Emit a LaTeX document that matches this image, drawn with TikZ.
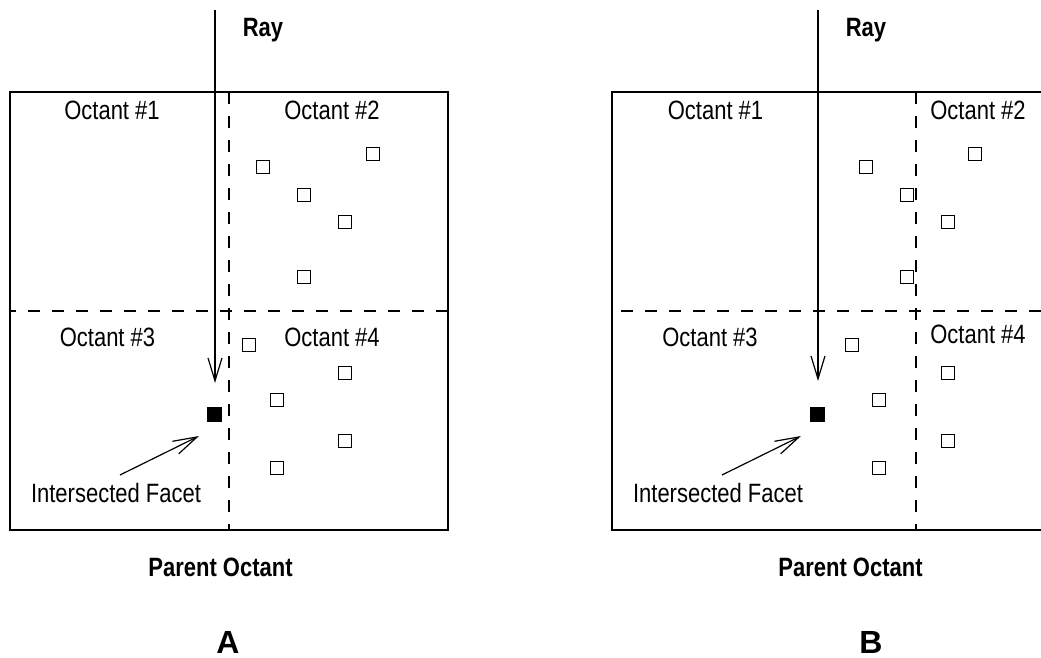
\documentclass[tikz,border=0pt]{standalone}
\usepackage{fontspec}
\setmainfont{Liberation Sans}[FakeStretch=0.83]
\newfontfamily\widesans{Liberation Sans}
\usetikzlibrary{arrows.meta}
\begin{document}
\begin{tikzpicture}[x=1pt,y=-1pt,
  lbl/.style={font=\fontsize{26.5}{31}\selectfont, inner sep=0pt, anchor=base},
  blbl/.style={lbl, font=\fontsize{26.5}{31}\selectfont\bfseries},
  big/.style={lbl, font=\widesans\fontsize{32}{38}\selectfont\bfseries},
  frame/.style={line width=1.3pt},
  divider/.style={line width=1.2pt, dash pattern=on 12pt off 12pt},
  facet/.style={draw, line width=1.2pt, minimum size=13.5pt, inner sep=0pt},
  hit/.style={fill=black, minimum size=15pt, inner sep=0pt},
  ray/.style={line width=1.2pt, -{Straight Barb[length=23pt,width=14pt]}},
  pointer/.style={line width=1.2pt, -{Straight Barb[length=24pt,width=14pt]}}]
\useasboundingbox (0,0) rectangle (1041,658);

% ---------------- Panel A ----------------
\draw[frame] (10,92) rectangle (448,530);
\draw[divider] (229,92) -- (229,530);
\draw[divider] (448,311) -- (10,311);

\node[lbl] (aO1) at (112,120) {Octant \#1};
\node[lbl] (aO2) at (332,120) {Octant \#2};
\node[lbl] (aO3) at (107.5,346.5) {Octant \#3};
\node[lbl] (aO4) at (332,346.5) {Octant \#4};

\node[facet] (af1) at (263,167) {};
\node[facet] (af2) at (373,154) {};
\node[facet] (af3) at (304,195) {};
\node[facet] (af4) at (345,222) {};
\node[facet] (af5) at (304,277) {};
\node[facet] (af6) at (249,345) {};
\node[facet] (af7) at (345,373) {};
\node[facet] (af8) at (277,400) {};
\node[facet] (af9) at (345,441) {};
\node[facet] (af10) at (277,468) {};
\node[hit] (aHit) at (214,414) {};

\coordinate (aRayTop) at (215,10);
\coordinate (aRayTip) at (215,383);
\draw[ray] (aRayTop) -- (aRayTip);
\node[blbl] (aRay) at (263,37) {Ray};

\node[lbl] (aIF) at (116,502) {Intersected Facet};
\coordinate (aPtrStart) at (120,475);
\coordinate (aPtrTip) at (199,436);
\draw[pointer] (aPtrStart) -- (aPtrTip);

\node[blbl] (aParent) at (220.5,576.5) {Parent Octant};
\node[big] (aLetter) at (228,653) {A};

% ---------------- Panel B ----------------
\draw[frame] (1041,92) -- (612,92) -- (612,530) -- (1041,530);
\draw[divider] (916,92) -- (916,530);
\draw[divider] (1041,311) -- (612,311);

\node[lbl] (bO1) at (715.5,120) {Octant \#1};
\node[lbl] (bO2) at (978,120) {Octant \#2};
\node[lbl] (bO3) at (710,346.5) {Octant \#3};
\node[lbl] (bO4) at (978,343) {Octant \#4};

\node[facet] (bf1) at (866,167) {};
\node[facet] (bf2) at (975,154) {};
\node[facet] (bf3) at (907,195) {};
\node[facet] (bf4) at (948,222) {};
\node[facet] (bf5) at (907,277) {};
\node[facet] (bf6) at (852,345) {};
\node[facet] (bf7) at (948,373) {};
\node[facet] (bf8) at (879,400) {};
\node[facet] (bf9) at (948,441) {};
\node[facet] (bf10) at (879,468) {};
\node[hit] (bHit) at (817,414) {};

\coordinate (bRayTop) at (818,10);
\coordinate (bRayTip) at (818,381);
\draw[ray] (bRayTop) -- (bRayTip);
\node[blbl] (bRay) at (866,37) {Ray};

\node[lbl] (bIF) at (718,502) {Intersected Facet};
\coordinate (bPtrStart) at (722,475);
\coordinate (bPtrTip) at (801,436);
\draw[pointer] (bPtrStart) -- (bPtrTip);

\node[blbl] (bParent) at (850.5,576.5) {Parent Octant};
\node[big] (bLetter) at (871,653) {B};
\end{tikzpicture}
\end{document}
